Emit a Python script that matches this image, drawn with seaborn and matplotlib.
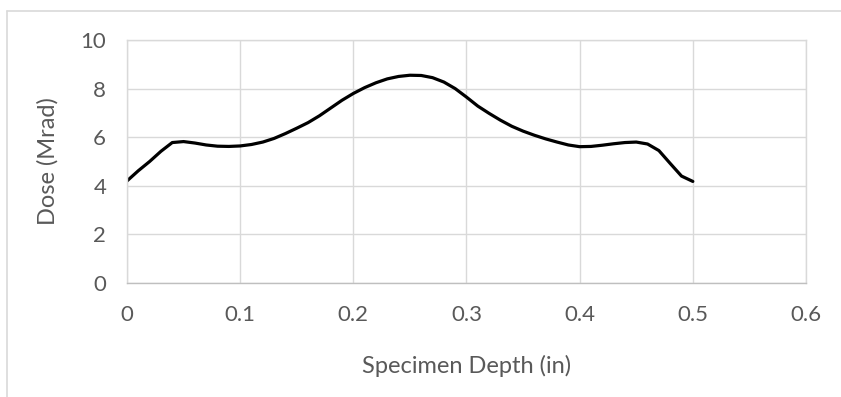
import matplotlib
matplotlib.use("Agg")
import matplotlib.pyplot as plt
from matplotlib.lines import Line2D
import seaborn as sns
import pandas as pd

depth = [0.00, 0.01, 0.02, 0.03, 0.04, 0.05, 0.06, 0.07, 0.08, 0.09,
         0.10, 0.11, 0.12, 0.13, 0.14, 0.15, 0.16, 0.17, 0.18, 0.19,
         0.20, 0.21, 0.22, 0.23, 0.24, 0.25, 0.26, 0.27, 0.28, 0.29,
         0.30, 0.31, 0.32, 0.33, 0.34, 0.35, 0.36, 0.37, 0.38, 0.39,
         0.40, 0.41, 0.42, 0.43, 0.44, 0.45, 0.46, 0.47, 0.48, 0.49, 0.50]
dose = [4.20, 4.62, 5.00, 5.42, 5.78, 5.82, 5.76, 5.68, 5.63, 5.62,
        5.64, 5.70, 5.80, 5.95, 6.15, 6.37, 6.60, 6.88, 7.20, 7.52,
        7.80, 8.04, 8.24, 8.40, 8.50, 8.55, 8.54, 8.45, 8.27, 8.00,
        7.65, 7.28, 6.98, 6.70, 6.45, 6.25, 6.08, 5.93, 5.80, 5.68,
        5.61, 5.62, 5.67, 5.73, 5.78, 5.80, 5.72, 5.45, 4.92, 4.40, 4.18]
x_ticks = [0, 0.1, 0.2, 0.3, 0.4, 0.5, 0.6]
x_tick_labels = ["0", "0.1", "0.2", "0.3", "0.4", "0.5", "0.6"]
y_ticks = [0, 2, 4, 6, 8, 10]
y_tick_labels = ["0", "2", "4", "6", "8", "10"]

df = pd.DataFrame({"depth": depth, "dose": dose})

sns.set_theme(style="white")
plt.rcParams["font.family"] = ["Lato", "DejaVu Sans"]

GRID = "#D9D9D9"
TEXT = "#595959"

fig = plt.figure(figsize=(8.41, 3.97), dpi=100)
ax = fig.add_axes([127/841, 1-283/397, 679/841, 243/397])

sns.lineplot(data=df, x="depth", y="dose", ax=ax, color="black", linewidth=2.3)
ax.lines[0].set_solid_joinstyle("round")
ax.lines[0].set_solid_capstyle("round")

ax.set_xlim(0, 0.6)
ax.set_ylim(0, 10)
ax.set_xticks(x_ticks)
ax.set_xticklabels(x_tick_labels)
ax.set_yticks(y_ticks)
ax.set_yticklabels(y_tick_labels)
ax.grid(True, color=GRID, linewidth=1.0)
ax.set_axisbelow(True)
for s in ax.spines.values():
    s.set_color(GRID)
    s.set_linewidth(1.0)
ax.spines["bottom"].set_color("#BFBFBF")
ax.tick_params(axis="both", length=0, labelsize=16, colors=TEXT)
ax.tick_params(axis="x", pad=16)
ax.tick_params(axis="y", pad=15)

ax.set_xlabel("Specimen Depth (in)", fontsize=17, color=TEXT)
ax.set_ylabel("Dose (Mrad)", fontsize=17, color=TEXT)
ax.xaxis.set_label_coords(0.5, (283-355)/243)
ax.yaxis.set_label_coords((59-127)/679, 0.5)

# chart-area border
fig.add_artist(Line2D([7/841, 7/841], [0, 1-11/397], color=GRID, linewidth=1.2))
fig.add_artist(Line2D([7/841, 1], [1-11/397, 1-11/397], color=GRID, linewidth=1.2))

fig.savefig("out.png", dpi=100)
